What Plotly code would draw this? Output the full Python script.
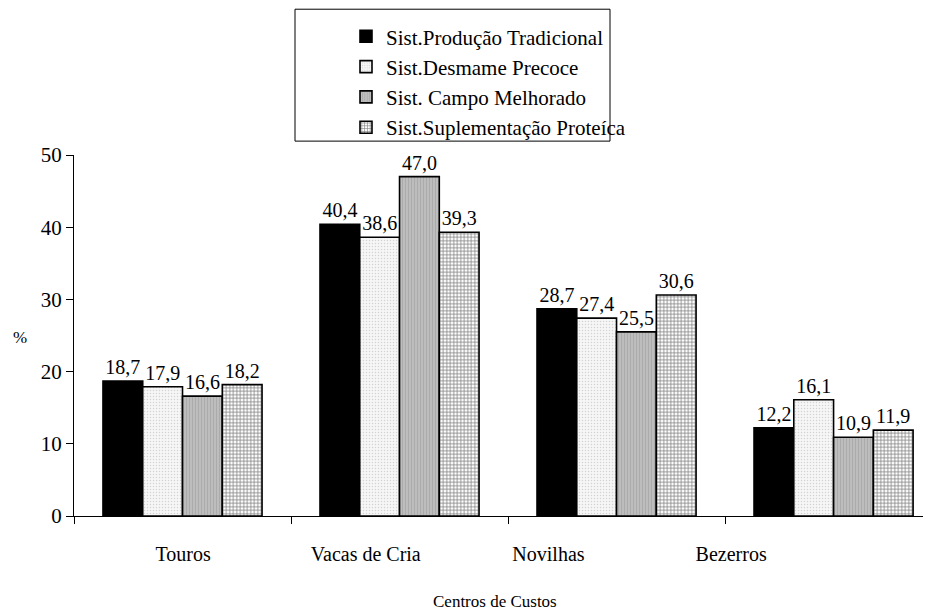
import plotly.graph_objects as go

categories = ["Touros", "Vacas de Cria", "Novilhas", "Bezerros"]
series_names = ["Sist.Produção Tradicional", "Sist.Desmame Precoce",
                "Sist. Campo Melhorado", "Sist.Suplementação Proteíca"]
tradicional = [18.7, 40.4, 28.7, 12.2]
desmame = [17.9, 38.6, 27.4, 16.1]
campo = [16.6, 47.0, 25.5, 10.9]
suplementacao = [18.2, 39.3, 30.6, 11.9]
y_ticks = [0, 10, 20, 30, 40, 50]

series_values = [tradicional, desmame, campo, suplementacao]
styles = [
    dict(color="#000000", pattern=dict(shape="")),
    dict(color="#f2f2f2", pattern=dict(shape=".", fgcolor="#b0b0b0", bgcolor="#f6f6f6", size=3, solidity=0.2)),
    dict(color="#b4b4b4", pattern=dict(shape="|", fgcolor="#9a9a9a", bgcolor="#bdbdbd", size=3, solidity=0.35)),
    dict(color="#ffffff", pattern=dict(shape="+", fgcolor="#000000", bgcolor="#ffffff", size=3.5, solidity=0.4)),
]
FONT = "Liberation Serif"

# page body has an 8px margin; compensate so the plot area sits at x 74..931, y 152..516
OFF = 8
PL, PR, PT, PB = 74, 931, 152, 516
PW, PH = PR - PL, PB - PT


def px(x):
    return (x - PL) / PW


def py(y):
    return (PB - y) / PH


fig = go.Figure()
for i, (name, vals, st) in enumerate(zip(series_names, series_values, styles)):
    fig.add_trace(go.Bar(
        x=categories, y=vals, name=name,
        marker=dict(color=st["color"], pattern=st["pattern"],
                    line=dict(color="#000000", width=1.6)),
        text=[f"{v:.1f}".replace(".", ",") for v in vals],
        textposition="outside", cliponaxis=False,
        textfont=dict(family=FONT, size=20, color="#000000"),
    ))

fig.update_layout(
    width=931, height=613,
    paper_bgcolor="white", plot_bgcolor="white",
    margin=dict(l=PL - OFF, r=OFF, t=PT - OFF, b=613 - PB + OFF),
    barmode="group", bargap=0.267, bargroupgap=0,
    font=dict(family=FONT, color="#000000"),
    showlegend=True,
    legend=dict(x=px(346), xref="paper", y=py(12), yref="paper",
                xanchor="left", yanchor="top",
                font=dict(family=FONT, size=21, color="#000000"),
                bgcolor="rgba(0,0,0,0)", borderwidth=0,
                traceorder="normal"),
    xaxis=dict(range=[-0.5, 3.449], showline=True, linecolor="#000000", linewidth=1,
               ticks="outside", tickson="boundaries", ticklen=7, tickcolor="#000000",
               showticklabels=False, showgrid=False, zeroline=False),
    xaxis2=dict(overlaying="x", anchor="y", side="bottom",
                range=[-0.597, 4.094], tickmode="array", tickvals=[0, 1, 2, 3],
                ticktext=categories, showline=False, ticks="", showgrid=False,
                zeroline=False, ticklabelstandoff=24,
                tickfont=dict(family=FONT, size=20, color="#000000")),
    yaxis=dict(range=[0, 50], tickvals=y_ticks, showline=True, linecolor="#000000",
               linewidth=1, ticks="outside", ticklen=7, tickcolor="#000000",
               showgrid=False, zeroline=False,
               tickfont=dict(family=FONT, size=21, color="#000000")),
    shapes=[dict(type="rect", xref="paper", yref="paper",
                 x0=px(295), x1=px(610), y0=py(138), y1=py(5),
                 line=dict(color="#000000", width=1), fillcolor="rgba(0,0,0,0)")],
    annotations=[
        dict(text="%", xref="paper", yref="paper", x=px(20), y=py(336),
             xanchor="center", yanchor="middle",
             showarrow=False, font=dict(family=FONT, size=17, color="#000000")),
        dict(text="Centros de Custos", xref="paper", yref="paper",
             x=px(495), y=py(602), xanchor="center", yanchor="middle", showarrow=False,
             font=dict(family=FONT, size=17, color="#000000")),
    ],
)
# invisible trace to activate the label axis
fig.add_trace(go.Scatter(x=[0], y=[0], xaxis="x2", mode="markers",
                         marker=dict(opacity=0), showlegend=False, hoverinfo="skip"))

fig.write_html("out.html")
